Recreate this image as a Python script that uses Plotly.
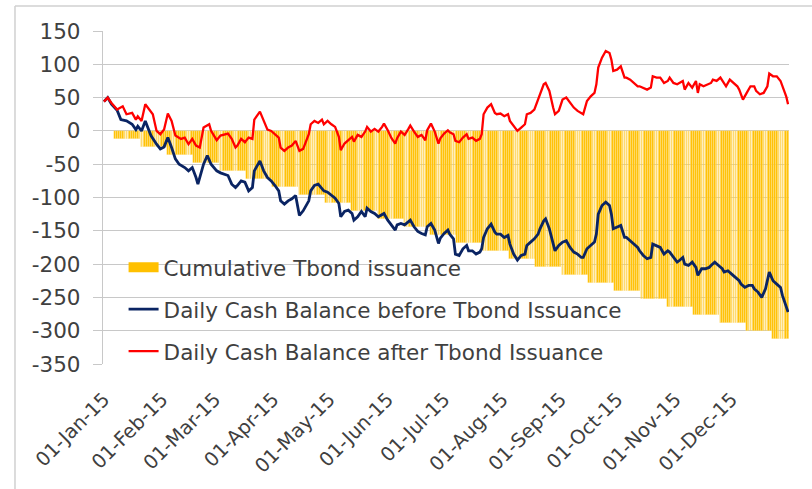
import pandas as pd
import plotly.graph_objects as go

# ---------------- data ----------------
issue_dates = ["2015-01-07", "2015-01-21", "2015-02-04", "2015-02-18", "2015-03-04", "2015-03-18",
               "2015-04-01", "2015-04-15", "2015-04-29", "2015-05-13", "2015-05-27", "2015-06-10",
               "2015-06-24", "2015-07-08", "2015-07-22", "2015-08-05", "2015-08-19", "2015-09-02",
               "2015-09-16", "2015-09-30", "2015-10-14", "2015-10-28", "2015-11-11", "2015-11-25",
               "2015-12-09", "2015-12-23"]
cum_issuance = [-12, -24, -36, -48, -60, -72, -84, -96, -108, -120, -132, -144, -156,
                -168, -180, -192, -204, -216, -228, -240, -252, -264, -276, -288, -300, -312]

blue_days = [0, 2, 4, 7, 9, 12, 15, 17, 18, 20, 22, 24, 25, 28, 30, 32, 34, 36, 38, 40, 43, 45, 47, 49, 50,
             53, 55, 57, 60, 62, 64, 66, 68, 70, 71, 73, 75, 77, 79, 80, 83, 85, 87, 89, 91, 93, 94, 96, 98,
             100, 102, 104, 106, 108, 109, 110, 112, 114, 116, 117, 119, 121, 123, 125, 126, 128, 130, 132,
             133, 135, 137, 139, 140, 142, 144, 146, 148, 149, 151, 153, 155, 156, 158, 160, 162, 163, 165,
             167, 169, 171, 172, 174, 176, 178, 179, 181, 183, 184, 186, 187, 189, 191, 193, 194, 196, 198,
             200, 201, 202, 204, 206, 208, 209, 211, 213, 215, 216, 218, 220, 222, 224, 225, 227, 229, 231,
             232, 234, 235, 237, 239, 240, 242, 244, 246, 248, 250, 252, 254, 255, 257, 259, 261, 262, 263,
             265, 267, 269, 270, 271, 273, 275, 277, 278, 280, 282, 284, 285, 287, 289, 291, 292, 294, 296,
             298, 300, 301, 303, 305, 306, 308, 309, 311, 313, 315, 316, 318, 320, 322, 323, 325, 327, 329,
             330, 332, 334, 336, 338, 339, 341, 343, 345, 346, 348, 350, 352, 354, 356, 358, 360, 361, 363, 364]
blue_vals = [44, 50, 40, 31, 17, 15, 10, 2, 7, 0, 15, 0, -7, -20, -27, -24, -10, -25, -42, -50, -55, -60, -55, -70, -80,
             -50, -37, -50, -60, -63, -65, -67, -80, -85, -82, -75, -77, -90, -85, -60, -45, -60, -70, -75, -82, -90, -105, -110, -105,
             -102, -97, -127, -120, -110, -105, -90, -82, -80, -87, -90, -92, -96, -101, -109, -129, -121, -119, -124,
             -134, -129, -121, -129, -116, -121, -124, -129, -126, -124, -134, -141, -149, -141, -139, -141, -136, -134, -144,
             -151, -154, -156, -144, -139, -149, -169, -161, -154, -149, -155, -162, -185, -187, -177, -172, -180, -180, -185,
             -182, -177, -160, -147, -140, -152, -155, -155, -160, -157, -170, -185, -194, -187, -185, -172, -167, -162, -155,
             -147, -135, -132, -147, -170, -180, -172, -167, -165, -175, -182, -185, -190, -190, -177, -172, -167, -155, -125,
             -112, -107, -112, -125, -147, -145, -142, -160, -160, -165, -170, -175, -180, -187, -192, -190, -170, -172, -175,
             -185, -180, -182, -190, -197, -195, -190, -200, -202, -197, -205, -217, -207, -207, -205, -202, -197, -202, -207,
             -212, -210, -215, -220, -225, -230, -235, -232, -232, -237, -242, -250, -237, -212, -225, -230, -235, -247, -262, -272]

red_days = [0, 2, 4, 7, 10, 12, 15, 17, 18, 20, 22, 24, 26, 28, 30, 32, 34, 36, 38, 41, 43, 45, 47, 49, 51,
            53, 56, 57, 60, 62, 64, 66, 68, 70, 71, 73, 75, 77, 79, 80, 83, 85, 87, 89, 91, 93, 94, 96, 98,
            100, 102, 104, 106, 108, 109, 110, 112, 114, 116, 117, 119, 121, 123, 125, 126, 128, 130, 132,
            133, 135, 137, 139, 140, 142, 144, 146, 148, 149, 151, 153, 155, 156, 158, 160, 162, 163, 165,
            167, 169, 171, 172, 174, 176, 178, 179, 181, 183, 184, 186, 187, 189, 191, 193, 194, 196, 198,
            200, 201, 202, 204, 206, 208, 209, 211, 213, 215, 216, 218, 220, 222, 224, 225, 227, 229, 231,
            232, 234, 235, 237, 239, 240, 242, 244, 246, 248, 250, 252, 254, 255, 257, 259, 261, 262, 263,
            265, 267, 269, 270, 271, 273, 275, 277, 278, 280, 282, 284, 285, 287, 289, 291, 292, 294, 296,
            298, 300, 301, 303, 305, 306, 308, 309, 311, 313, 315, 316, 317, 319, 321, 323, 324, 326, 328,
            330, 331, 333, 335, 337, 338, 340, 342, 344, 346, 347, 349, 351, 353, 354, 356, 358, 360, 361, 363, 364]
red_vals = [44, 50, 42, 32, 37, 25, 27, 17, 22, 15, 40, 32, 25, 0, -5, 2, 26, 15, -7, -12, -10, -20, -12, -22, -25,
            5, 10, 0, -14, -7, -5, -4, -12, -25, -22, -12, -17, -10, -12, 17, 29, 15, 2, 0, -5, -10, -25, -30, -25,
            -22, -15, -30, -27, -12, -5, 10, 15, 12, 17, 10, 15, 10, 6, -9, -29, -19, -14, -9,
            -16, -6, -9, -1, 6, -1, 3, -1, 6, 11, 1, -11, -19, -11, -1, -6, 3, 8, -1,
            -9, -6, -14, 1, 11, -1, -19, -11, -4, 1, -2, -5, -15, -17, -10, -5, -12, -10, -15,
            -12, -5, 25, 35, 40, 27, 25, 26, 22, 25, 15, 7, 0, 5, 10, 25, 27, 32, 47,
            55, 70, 72, 60, 35, 25, 30, 47, 50, 42, 35, 30, 26, 25, 45, 52, 57, 70, 95,
            110, 120, 117, 107, 90, 92, 97, 80, 80, 77, 72, 67, 67, 65, 62, 65, 82, 80, 80,
            72, 75, 80, 72, 70, 72, 75, 62, 72, 65, 75, 57, 70, 67, 70, 72, 77, 75, 80,
            72, 67, 77, 72, 67, 62, 47, 57, 67, 67, 60, 55, 57, 67, 86, 82, 82, 75, 67, 52, 40]

month_ticks = ["2015-01-01", "2015-02-01", "2015-03-01", "2015-04-01", "2015-05-01", "2015-06-01",
               "2015-07-01", "2015-08-01", "2015-09-01", "2015-10-01", "2015-11-01", "2015-12-01"]
y_ticks = [150, 100, 50, 0, -50, -100, -150, -200, -250, -300, -350]
y_tick_text = ["150", "100", "50", "0", "-50", "-100", "-150", "-200", "-250", "-300", "-350"]

names = ["Cumulative Tbond issuance",
         "Daily Cash Balance before Tbond Issuance",
         "Daily Cash Balance after Tbond Issuance"]

# ---------------- build ----------------
start = pd.Timestamp("2015-01-01")
blue_x = start + pd.to_timedelta(blue_days, unit="D")
red_x = start + pd.to_timedelta(red_days, unit="D")

# cumulative issuance held on each day (step series from the issuance list)
days_all = pd.date_range("2015-01-01", "2015-12-31", freq="D")
steps = pd.Series(cum_issuance, index=pd.to_datetime(issue_dates))
bar_vals = steps.reindex(days_all, method="ffill").dropna()

ORANGE = "#FFC000"
NAVY = "#0A2463"
RED = "#FF0000"
GRID = "#C8C8C8"
TXT = "#404040"
FONT = "DejaVu Sans"
FS = 21.5

fig = go.Figure()
fig.add_trace(go.Bar(x=bar_vals.index, y=bar_vals.values,
                     marker=dict(color=ORANGE, line=dict(width=0.6, color="rgba(255,255,255,0.33)")),
                     width=86400000 * 0.85, showlegend=False, name=names[0]))
fig.add_trace(go.Scatter(x=[None], y=[None], mode="lines", line=dict(color=ORANGE, width=12),
                         name=names[0], legendgroup="a"))
fig.add_trace(go.Scatter(x=blue_x, y=blue_vals, mode="lines", line=dict(color=NAVY, width=2.8),
                         name=names[1], legendgroup="b"))
fig.add_trace(go.Scatter(x=red_x, y=red_vals, mode="lines", line=dict(color=RED, width=2.3),
                         name=names[2], legendgroup="c"))

fig.update_layout(
    width=812, height=489,
    margin=dict(l=103, r=23, t=31, b=125, autoexpand=False),
    paper_bgcolor="white", plot_bgcolor="white",
    font=dict(family=FONT, size=FS, color=TXT),
    bargap=0,
    legend=dict(x=0.03, y=0.352, xanchor="left", yanchor="top", bgcolor="rgba(0,0,0,0)",
                font=dict(family=FONT, size=FS, color=TXT), traceorder="grouped",
                tracegroupgap=11, itemwidth=30),
    xaxis=dict(type="date", range=["2014-12-31 12:00", "2015-12-31 12:00"],
               tickvals=month_ticks, tickformat="%d-%b-%y", tickangle=-45, automargin=False,
               showgrid=False, showline=False, zeroline=False, ticks="", ticklabelstandoff=19,
               tickfont=dict(family=FONT, size=19.5, color=TXT)),
    yaxis=dict(range=[-350, 150], tickvals=y_ticks, ticktext=y_tick_text, automargin=False,
               showgrid=True, gridcolor=GRID, gridwidth=1.3,
               zeroline=False, showline=True, linecolor=GRID, linewidth=1.3,
               ticks="outside", ticklen=9, tickcolor=GRID, tickwidth=1.3, ticklabelstandoff=8,
               tickfont=dict(family=FONT, size=FS, color=TXT)),
    shapes=[
        dict(type="line", xref="paper", yref="paper", x0=-0.1283, x1=1.04, y0=1.075, y1=1.075,
             line=dict(color="#D0D0D0", width=1.5), layer="above"),
        dict(type="line", xref="paper", yref="paper", x0=-0.1283, x1=-0.1283, y0=1.075, y1=-0.4,
             line=dict(color="#D0D0D0", width=1.5), layer="above"),
    ],
)

fig.write_html("out.html", config={"displayModeBar": False},
               post_script="document.body.style.margin='0';")
